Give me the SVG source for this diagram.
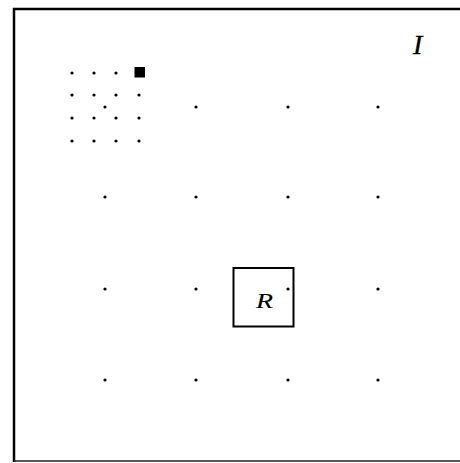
<svg xmlns="http://www.w3.org/2000/svg" width="460" height="463" viewBox="0 0 460 463">
<style>
.dot{fill:#000}
.lbl{font-family:"Liberation Serif",serif;font-style:italic;fill:#000}
</style>
<defs>
<circle id="d" r="1.6" class="dot"/>
</defs>
<rect width="460" height="463" fill="#fff"/>
<g id="frame">
<path d="M14,462 V9 H460" fill="none" stroke="#000" stroke-width="2.5"/>
<path d="M14,461 H460" fill="none" stroke="#222" stroke-width="1.5"/>
</g>
<g id="label-I"><text class="lbl" x="413" y="54" font-size="28" stroke="#000" stroke-width="0.3">I</text></g>
<g id="fine-grid">
<use href="#d" x="72" y="73"/><use href="#d" x="94" y="73"/><use href="#d" x="116" y="73"/>
<rect x="134.5" y="67" width="10.5" height="10.5" fill="#000"/>
<use href="#d" x="72" y="95"/><use href="#d" x="94" y="95"/><use href="#d" x="116" y="95"/><use href="#d" x="139" y="95"/>
<use href="#d" x="72" y="118"/><use href="#d" x="94" y="118"/><use href="#d" x="116" y="118"/><use href="#d" x="139" y="118"/>
<use href="#d" x="72" y="141"/><use href="#d" x="94" y="141"/><use href="#d" x="116" y="141"/><use href="#d" x="139" y="141"/>
</g>
<g id="coarse-grid">
<use href="#d" x="105" y="107"/><use href="#d" x="196" y="107"/><use href="#d" x="288" y="107"/><use href="#d" x="378" y="107"/>
<use href="#d" x="105" y="197"/><use href="#d" x="196" y="197"/><use href="#d" x="288" y="197"/><use href="#d" x="378" y="197"/>
<use href="#d" x="105" y="289"/><use href="#d" x="196" y="289"/><use href="#d" x="288" y="289"/><use href="#d" x="378" y="289"/>
<use href="#d" x="105" y="380"/><use href="#d" x="196" y="380"/><use href="#d" x="288" y="380"/><use href="#d" x="378" y="380"/>
</g>
<g id="R">
<rect x="233.5" y="268" width="60" height="58.5" fill="none" stroke="#000" stroke-width="2"/>
<text class="lbl" x="256" y="308" font-size="21" textLength="17" lengthAdjust="spacingAndGlyphs" stroke="#000" stroke-width="0.1">R</text>
</g>
</svg>
